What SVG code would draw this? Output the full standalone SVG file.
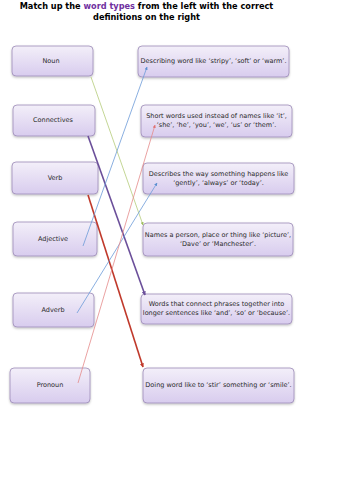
<svg xmlns="http://www.w3.org/2000/svg" width="353" height="500" viewBox="0 0 353 500">
<defs>
<linearGradient id="g" x1="0" y1="0" x2="0" y2="1">
<stop offset="0" stop-color="#f3eff9"/>
<stop offset="1" stop-color="#d8ccee"/>
</linearGradient>
<filter id="sh" x="-10%" y="-10%" width="120%" height="140%">
<feDropShadow dx="0" dy="1.2" stdDeviation="0.8" flood-color="#000" flood-opacity="0.25"/>
</filter>
<marker id="aBlue" viewBox="0 0 10 10" refX="9" refY="5" markerWidth="4" markerHeight="4" orient="auto"><path d="M0,0 L10,5 L0,10 z" fill="#5b8fd0"/></marker>
<marker id="aGreen" viewBox="0 0 10 10" refX="9" refY="5" markerWidth="4" markerHeight="4" orient="auto"><path d="M0,0 L10,5 L0,10 z" fill="#9bbb59"/></marker>
<marker id="aPink" viewBox="0 0 10 10" refX="9" refY="5" markerWidth="4" markerHeight="4" orient="auto"><path d="M0,0 L10,5 L0,10 z" fill="#e07070"/></marker>
<marker id="aPurple" viewBox="0 0 10 10" refX="9" refY="5" markerWidth="2.5" markerHeight="2.5" orient="auto"><path d="M0,0 L10,5 L0,10 z" fill="#6b4f9a"/></marker>
<marker id="aRed" viewBox="0 0 10 10" refX="9" refY="5" markerWidth="2.5" markerHeight="2.5" orient="auto"><path d="M0,0 L10,5 L0,10 z" fill="#c0392b"/></marker>
</defs>
<style>
.box{fill:url(#g);stroke:#9c8ab8;stroke-width:0.8;filter:url(#sh)}
.t{font-family:"DejaVu Sans",sans-serif;font-size:6.5px;fill:#2a2a2a;text-anchor:middle}
.ttl{font-family:"DejaVu Sans",sans-serif;font-size:8.2px;font-weight:bold;fill:#000;text-anchor:middle}
.c{fill:none}
</style>
<rect width="353" height="500" fill="#fff"/>
<text class="ttl" x="146.5" y="9">Match up the <tspan fill="#7030a0">word types</tspan> from the left with the correct</text>
<text class="ttl" x="146.5" y="20">definitions on the right</text>

<g id="left-noun"><rect class="box" x="12" y="46" width="81" height="30" rx="4"/><text class="t" x="51" y="63">Noun</text></g>
<g id="left-connectives"><rect class="box" x="13" y="105" width="82" height="31" rx="4"/><text class="t" x="53" y="122">Connectives</text></g>
<g id="left-verb"><rect class="box" x="12" y="162" width="86" height="32" rx="4"/><text class="t" x="55" y="180">Verb</text></g>
<g id="left-adjective"><rect class="box" x="13" y="222" width="84" height="34" rx="4"/><text class="t" x="53" y="241">Adjective</text></g>
<g id="left-adverb"><rect class="box" x="13" y="293" width="81" height="34" rx="4"/><text class="t" x="53" y="312">Adverb</text></g>
<g id="left-pronoun"><rect class="box" x="10" y="368" width="80" height="35" rx="4"/><text class="t" x="50" y="387">Pronoun</text></g>

<g id="right-describing"><rect class="box" x="138" y="46" width="151" height="31" rx="4"/><text class="t" x="213.5" y="63">Describing word like ‘stripy’, ‘soft’ or ‘warm’.</text></g>
<g id="right-short"><rect class="box" x="141" y="105" width="151" height="32" rx="4"/><text class="t" x="216.5" y="118">Short words used instead of names like ‘it’,</text><text class="t" x="216.5" y="127">‘she’, ‘he’, ‘you’, ‘we’, ‘us’ or ‘them’.</text></g>
<g id="right-describes"><rect class="box" x="143" y="163" width="151" height="31" rx="4"/><text class="t" x="218.5" y="176">Describes the way something happens like</text><text class="t" x="218.5" y="185">‘gently’, ‘always’ or ‘today’.</text></g>
<g id="right-names"><rect class="box" x="143" y="223" width="150" height="33" rx="4"/><text class="t" x="218" y="237">Names a person, place or thing like ‘picture’,</text><text class="t" x="218" y="246">‘Dave’ or ‘Manchester’.</text></g>
<g id="right-connect"><rect class="box" x="141" y="294" width="151" height="30" rx="4"/><text class="t" x="216.5" y="306">Words that connect phrases together into</text><text class="t" x="216.5" y="315">longer sentences like ‘and’, ‘so’ or ‘because’.</text></g>
<g id="right-doing"><rect class="box" x="143" y="368" width="151" height="35" rx="4"/><text class="t" x="218.5" y="387">Doing word like to ‘stir’ something or ‘smile’.</text></g>

<g id="connectors">
<line class="c" x1="91" y1="77" x2="143" y2="225" stroke="#b5cc7a" stroke-width="0.8" marker-end="url(#aGreen)"/>
<line class="c" x1="88" y1="136" x2="145" y2="295" stroke="#6b4f9a" stroke-width="1.6" marker-end="url(#aPurple)"/>
<line class="c" x1="88" y1="195" x2="143" y2="367" stroke="#c0392b" stroke-width="1.6" marker-end="url(#aRed)"/>
<line class="c" x1="83" y1="246" x2="147" y2="67" stroke="#6c9bd8" stroke-width="0.8" marker-end="url(#aBlue)"/>
<line class="c" x1="77" y1="313" x2="157" y2="183" stroke="#6c9bd8" stroke-width="0.8" marker-end="url(#aBlue)"/>
<line class="c" x1="78" y1="383" x2="155" y2="125" stroke="#e58a8a" stroke-width="0.8" marker-end="url(#aPink)"/>
</g>
</svg>
